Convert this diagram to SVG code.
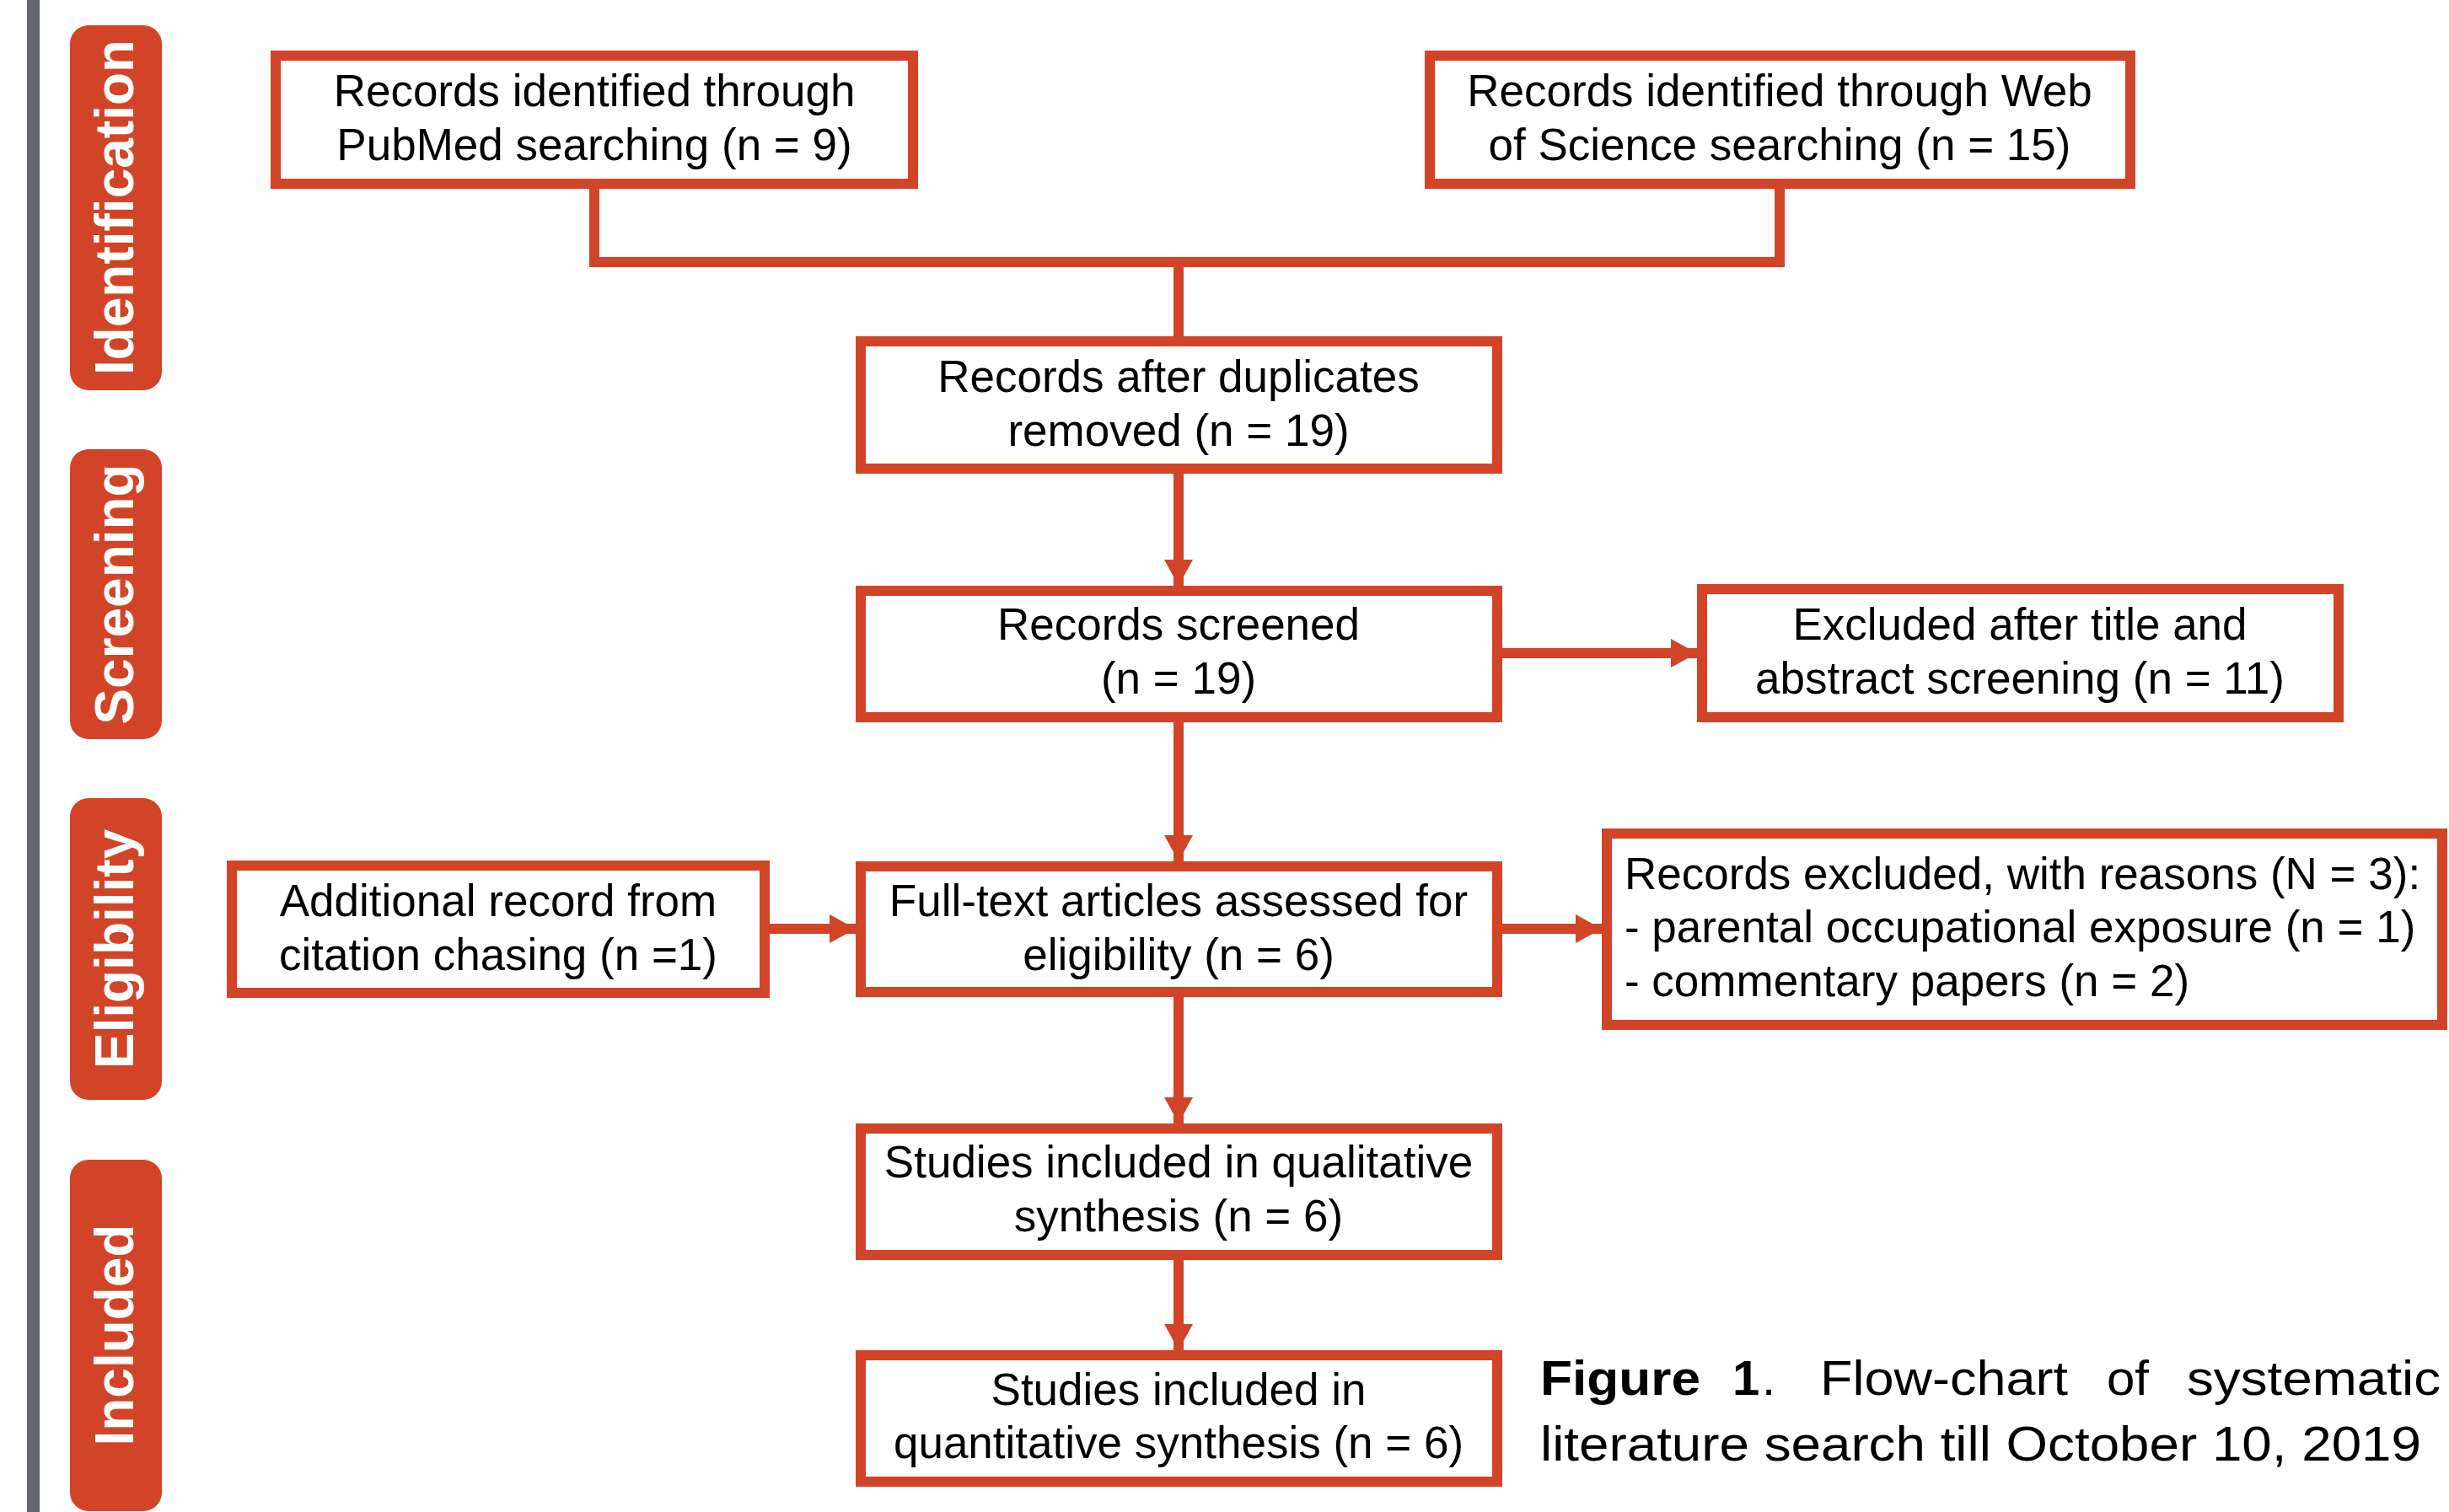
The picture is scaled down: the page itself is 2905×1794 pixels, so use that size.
<svg xmlns="http://www.w3.org/2000/svg" width="2905" height="1794" viewBox="0 0 2905 1794">
<defs>
<style>
.box{fill:#fff;stroke:#D24427;stroke-width:12}
.t{font-family:"Liberation Sans",Arial,sans-serif;font-size:53px;fill:#000;text-anchor:middle}
.tl{font-family:"Liberation Sans",Arial,sans-serif;font-size:53px;fill:#000}
.ph{fill:#D24427}
.pt{font-family:"Liberation Sans",Arial,sans-serif;font-size:64px;font-weight:bold;fill:#fff;text-anchor:middle}
.ln{fill:none;stroke:#D24427;stroke-width:12}
.cap{font-family:"Liberation Sans",Arial,sans-serif;font-size:58px;fill:#000}
</style>
<marker id="ah" markerUnits="userSpaceOnUse" markerWidth="32" markerHeight="36" refX="31" refY="17" orient="auto">
<path d="M0,0 L31,17 L0,34 Z" fill="#D24427"/>
</marker>
</defs>
<rect width="2905" height="1794" fill="#fff"/>
<rect x="32" y="0" width="15" height="1794" fill="#63666A"/>

<g id="phase-identification">
<rect class="ph" x="83" y="30" width="109" height="433" rx="22"/>
<text class="pt" transform="translate(158,246) rotate(-90)">Identification</text>
</g>
<g id="phase-screening">
<rect class="ph" x="83" y="533" width="109" height="344" rx="22"/>
<text class="pt" transform="translate(158,705) rotate(-90)">Screening</text>
</g>
<g id="phase-eligibility">
<rect class="ph" x="83" y="947" width="109" height="358" rx="22"/>
<text class="pt" transform="translate(158,1126) rotate(-90)">Eligibility</text>
</g>
<g id="phase-included">
<rect class="ph" x="83" y="1376" width="109" height="417" rx="22"/>
<text class="pt" transform="translate(158,1584) rotate(-90)">Included</text>
</g>

<g id="connectors">
<path class="ln" d="M705,224 V311 H2111 V224"/>
<path class="ln" d="M1398,311 V399"/>
<path class="ln" d="M1398,562 V695" marker-end="url(#ah)"/>
<path class="ln" d="M1398,857 V1022" marker-end="url(#ah)"/>
<path class="ln" d="M1782,775 H2013" marker-end="url(#ah)"/>
<path class="ln" d="M913,1102 H1015" marker-end="url(#ah)"/>
<path class="ln" d="M1782,1102 H1900" marker-end="url(#ah)"/>
<path class="ln" d="M1398,1183 V1333" marker-end="url(#ah)"/>
<path class="ln" d="M1398,1495 V1602" marker-end="url(#ah)"/>
</g>

<g id="pubmed">
<rect class="box" x="327" y="66" width="756" height="152"/>
<text class="t" x="705" y="126">Records identified through</text>
<text class="t" x="705" y="190">PubMed searching (n = 9)</text>
</g>
<g id="wos">
<rect class="box" x="1696" y="66" width="831" height="152"/>
<text class="t" x="2111" y="126">Records identified through Web</text>
<text class="t" x="2111" y="190">of Science searching (n = 15)</text>
</g>
<g id="dedup">
<rect class="box" x="1021" y="405" width="755" height="151"/>
<text class="t" x="1398" y="465">Records after duplicates</text>
<text class="t" x="1398" y="529">removed (n = 19)</text>
</g>
<g id="screened">
<rect class="box" x="1021" y="701" width="755" height="150"/>
<text class="t" x="1398" y="759">Records screened</text>
<text class="t" x="1398" y="823">(n = 19)</text>
</g>
<g id="excluded-title">
<rect class="box" x="2019" y="699" width="755" height="152"/>
<text class="t" x="2396" y="759">Excluded after title and</text>
<text class="t" x="2396" y="823">abstract screening (n = 11)</text>
</g>
<g id="additional">
<rect class="box" x="275" y="1027" width="632" height="151"/>
<text class="t" x="591" y="1087">Additional record from</text>
<text class="t" x="591" y="1151">citation chasing (n =1)</text>
</g>
<g id="fulltext">
<rect class="box" x="1021" y="1028" width="755" height="149"/>
<text class="t" x="1398" y="1087">Full-text articles assessed for</text>
<text class="t" x="1398" y="1151">eligibility (n = 6)</text>
</g>
<g id="excluded-reasons">
<rect class="box" x="1906" y="989" width="991" height="227"/>
<text class="tl" x="1927" y="1055">Records excluded, with reasons (N = 3):</text>
<text class="tl" x="1927" y="1118">- parental occupational exposure (n = 1)</text>
<text class="tl" x="1927" y="1182">- commentary papers (n = 2)</text>
</g>
<g id="qualitative">
<rect class="box" x="1021" y="1339" width="755" height="150"/>
<text class="t" x="1398" y="1397">Studies included in qualitative</text>
<text class="t" x="1398" y="1461">synthesis (n = 6)</text>
</g>
<g id="quantitative">
<rect class="box" x="1021" y="1608" width="755" height="150"/>
<text class="t" x="1398" y="1667">Studies included in</text>
<text class="t" x="1398" y="1730">quantitative synthesis (n = 6)</text>
</g>

<g id="caption">
<text class="cap" x="1827" y="1655" font-weight="bold" textLength="190" lengthAdjust="spacingAndGlyphs">Figure</text>
<text class="cap" x="2055" y="1655" font-weight="bold">1</text>
<text class="cap" x="2090" y="1655">.</text>
<text class="cap" x="2159" y="1655" textLength="294" lengthAdjust="spacingAndGlyphs">Flow-chart</text>
<text class="cap" x="2499" y="1655" textLength="50" lengthAdjust="spacingAndGlyphs">of</text>
<text class="cap" x="2594" y="1655" textLength="301" lengthAdjust="spacingAndGlyphs">systematic</text>
<text class="cap" x="1827" y="1733" textLength="1045" lengthAdjust="spacingAndGlyphs">literature search till October 10, 2019</text>
</g>
</svg>
